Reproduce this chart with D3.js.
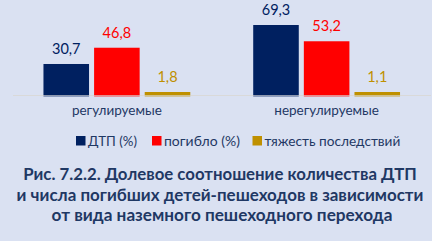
<!DOCTYPE html>
<html><head><meta charset="utf-8">
<script src="https://cdn.jsdelivr.net/npm/d3@7"></script>
<style>
html,body{margin:0;padding:0;background:#dae1f2;}
svg{display:block;}
</style></head>
<body>
<svg id="c" width="432" height="241"></svg>
<script>
const categories = ["регулируемые", "нерегулируемые"];
const seriesNames = ["ДТП (%)", "погибло (%)", "тяжесть последствий"];
const dtp = [30.7, 69.3];
const died = [46.8, 53.2];
const severity = [1.8, 1.1];
const seriesColors = ["#002060", "#ff0000", "#bf9000"];
const titleLines = [
  "Рис. 7.2.2. Долевое соотношение количества ДТП",
  "и числа погибших детей-пешеходов в зависимости",
  "от вида наземного пешеходного перехода"
];

const FONT = "Lato, 'Open Sans', sans-serif";
const svg = d3.select("#c");
const W = 432, H = 241;
svg.append("rect").attr("width", W).attr("height", H).attr("fill", "#dae1f2");

function fit(sel, target) {
  const fs = +sel.attr("font-size");
  const w = sel.node().getComputedTextLength();
  if (w > 0) sel.attr("font-size", (fs * target / w).toFixed(2));
}

const baseY = 95;
const y = d3.scaleLinear().domain([0, 100]).range([baseY, baseY - 101]);
const x0 = d3.scaleBand().domain(categories).range([12, 431.5]).paddingInner(0.3).paddingOuter(0.15);
const x1 = d3.scaleBand().domain(d3.range(3)).range([0, x0.bandwidth()]).paddingInner(0.1);

const series = [dtp, died, severity];
const data = [];
categories.forEach((c, ci) => series.forEach((s, si) => data.push({c, si, v: s[ci]})));

svg.append("line").attr("x1", 13).attr("x2", 431).attr("y1", baseY + 0.5).attr("y2", baseY + 0.5)
  .attr("stroke", "#d9d9d9").attr("stroke-width", 1);

const g = svg.append("g");
g.selectAll("rect.refl").data(data).join("rect").attr("class", "refl")
  .attr("x", d => x0(d.c) + x1(d.si)).attr("width", x1.bandwidth())
  .attr("y", baseY).attr("height", 2)
  .attr("fill", d => seriesColors[d.si]).attr("opacity", 0.35);
g.selectAll("rect.bar").data(data).join("rect").attr("class", "bar")
  .attr("x", d => x0(d.c) + x1(d.si)).attr("width", x1.bandwidth())
  .attr("y", d => Math.min(y(d.v), baseY - 3)).attr("height", d => Math.max(baseY - y(d.v), 3))
  .attr("fill", d => seriesColors[d.si]);

g.selectAll("text.val").data(data).join("text").attr("class", "val")
  .attr("x", d => x0(d.c) + x1(d.si) + x1.bandwidth() / 2)
  .attr("y", d => Math.min(y(d.v), baseY - 3) - 10)
  .attr("text-anchor", "middle")
  .attr("font-family", FONT).attr("font-size", 14.5)
  .attr("fill", d => seriesColors[d.si])
  .text(d => d3.format(".1f")(d.v).replace(".", ","));

const xAxis = d3.axisBottom(x0).tickSize(0).tickPadding(0);
const ax = svg.append("g").attr("transform", `translate(0,${baseY + 10})`).call(xAxis);
ax.select(".domain").remove();
ax.selectAll("text").attr("font-family", FONT).attr("font-size", 13.5)
  .attr("fill", "#1f3864").attr("dy", "0.75em").attr("y", 0);

const legendX = [76, 152, 252.5];
const legendW = [49, 76, 136];
const lg = svg.append("g");
seriesNames.forEach((n, i) => {
  lg.append("rect").attr("x", legendX[i]).attr("y", 136).attr("width", 9.5).attr("height", 9.5).attr("fill", seriesColors[i]);
  const t = lg.append("text").attr("x", legendX[i] + 12).attr("y", 145.5)
    .attr("font-family", FONT).attr("font-size", 13)
    .attr("fill", "#1f3864").text(n);
  fit(t, legendW[i]);
});

const tY = [180, 201, 221];
const targetW = [394, 407, 341];
const tX = [220, 220, 222];
titleLines.forEach((t, i) => {
  const tx = svg.append("text").attr("x", tX[i]).attr("y", tY[i]).attr("text-anchor", "middle")
    .attr("font-family", FONT).attr("font-weight", "bold").attr("font-size", 16)
    .attr("fill", "#1f3864").text(t);
  fit(tx, targetW[i]);
});
</script>
</body></html>
